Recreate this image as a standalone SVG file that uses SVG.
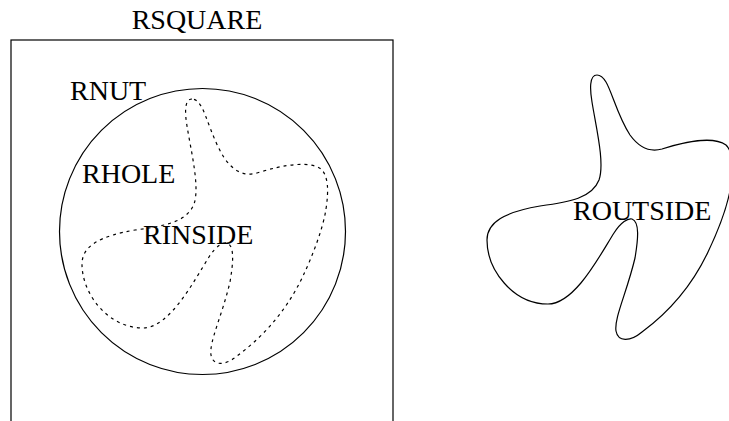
<svg xmlns="http://www.w3.org/2000/svg" width="729" height="421" viewBox="0 0 729 421">
<style>
.lbl{font-family:"Liberation Serif","Times New Roman",serif;font-size:28px;fill:#000}
.ln{fill:none;stroke:#000;stroke-width:1.2}
.dash{stroke-dasharray:3,4}
</style>
<defs>
<path id="blob" d="M597,75 C589,75 590,90 592,102 C596,127 605,163 599,180 C592,198 570,202 540,206 C505,212 487,222 487,240 C487,270 513,304 548,304 C575,304 600,255 614,233 C621,222 628,218 632,219 C640,222 638,240 635,258 C627,292 614,318 616,331 C618,342 630,342 642,332 C665,315 690,290 708,252 C717,233 728,205 731,185 C734,165 733,152 726,145 C715,137 690,140 662,149 C648,153 638,146 630,135 C618,117 612,92 606,82 C603,77 600,75 597,75 Z"/>
</defs>
<g id="rsquare">
<rect class="ln" x="11" y="40" width="382" height="420"/>
<text class="lbl" x="197" y="29" text-anchor="middle">RSQUARE</text>
</g>
<g id="rnut">
<circle class="ln" cx="202.5" cy="231.5" r="143"/>
<text class="lbl" x="70" y="100">RNUT</text>
</g>
<g id="rhole">
<use href="#blob" class="ln dash" transform="translate(-405,24)"/>
<text class="lbl" x="82" y="183">RHOLE</text>
</g>
<g id="rinside">
<text class="lbl" x="143" y="244">RINSIDE</text>
</g>
<g id="routside">
<use href="#blob" class="ln"/>
<text class="lbl" x="573" y="220">ROUTSIDE</text>
</g>
</svg>
